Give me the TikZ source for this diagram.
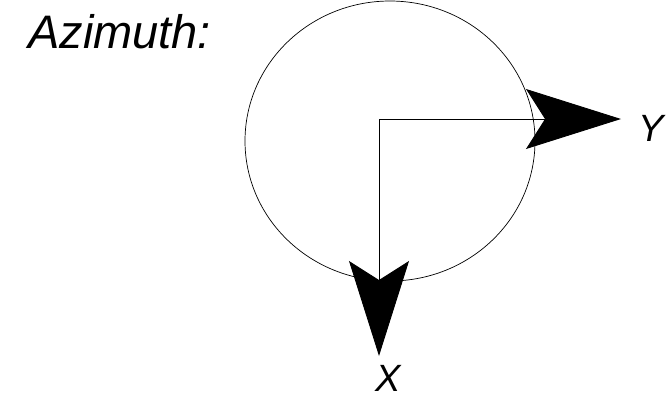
\documentclass[tikz,border=0pt]{standalone}
\usepackage{fontspec}
\setmainfont{Liberation Sans}
\usetikzlibrary{arrows.meta}

\begin{document}
\begin{tikzpicture}[
  x=1pt, y=-1pt,
  lbl/.style={inner sep=0pt, font=\fontsize{47}{52}\selectfont\itshape},
  axlbl/.style={inner sep=0pt, font=\fontsize{38}{42}\selectfont\itshape},
  rim/.style={line width=0.7pt},
  axis/.style={line width=0.9pt, -{Stealth[length=95pt, width=60pt, inset=19pt]}}
]
\useasboundingbox (0,0) rectangle (669,400);
\node[lbl, anchor=base west] (title) at (28,48) {Azimuth:};
\draw[rim] (390,141) ellipse [x radius=145pt, y radius=140pt];
\coordinate (o) at (379,119);
\coordinate (ytip) at (621,119);
\coordinate (xtip) at (379,356);
\draw[axis] (o) -- (ytip);
\draw[axis] (o) -- (xtip);
\node[axlbl, anchor=base west] (ylab) at (638,141) {Y};
\node[axlbl, anchor=base] (xlab) at (388,391) {X};
\end{tikzpicture}
\end{document}
